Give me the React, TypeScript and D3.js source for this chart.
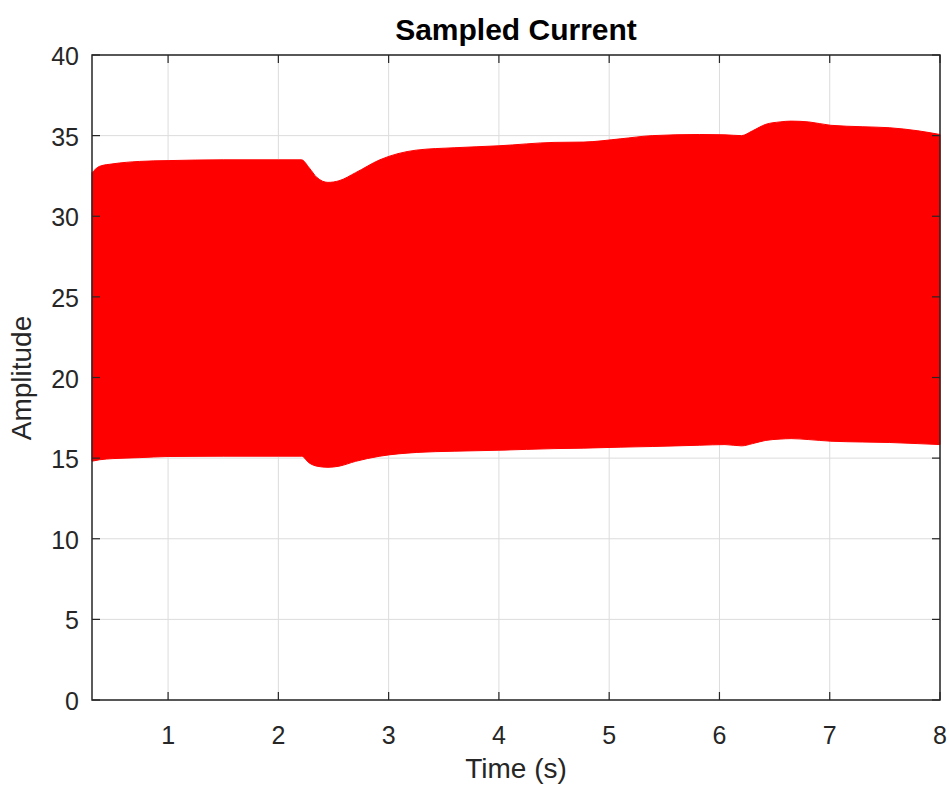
import React from "react";
import * as d3 from "d3";

const timeS = [0.31, 0.38, 0.5, 0.74, 1.0, 1.5, 2.0, 2.21, 2.28, 2.35, 2.45, 2.55, 2.7, 2.92, 3.25, 3.6, 4.0, 4.5, 4.77, 5.1, 5.39, 5.82, 6.05, 6.2, 6.3, 6.42, 6.55, 6.65, 6.81, 7.01, 7.3, 7.54, 7.8, 8.0];
const upperAmp = [32.7, 33.1, 33.25, 33.4, 33.45, 33.5, 33.5, 33.5, 33.0, 32.4, 32.1, 32.2, 32.7, 33.5, 34.1, 34.25, 34.37, 34.58, 34.6, 34.8, 35.0, 35.07, 35.05, 35.0, 35.3, 35.7, 35.85, 35.9, 35.85, 35.64, 35.55, 35.49, 35.3, 35.07];
const lowerAmp = [14.81, 14.9, 14.97, 15.03, 15.1, 15.12, 15.12, 15.12, 14.7, 14.5, 14.43, 14.5, 14.8, 15.12, 15.35, 15.43, 15.49, 15.59, 15.62, 15.68, 15.72, 15.8, 15.84, 15.76, 15.9, 16.1, 16.18, 16.21, 16.15, 16.05, 16.0, 15.97, 15.9, 15.84];

const xTicks = [1, 2, 3, 4, 5, 6, 7, 8];
const yTicks = [0, 5, 10, 15, 20, 25, 30, 35, 40];

export default function App() {
  const W = 949, H = 786;
  const left = 92, right = 940, top = 55, bottom = 700;
  const x = d3.scaleLinear().domain([0.31, 8]).range([left, right]);
  const y = d3.scaleLinear().domain([0, 40]).range([bottom, top]);
  const idx = d3.range(timeS.length);
  const area = d3
    .area<number>()
    .x((i) => x(timeS[i]))
    .y0((i) => y(lowerAmp[i]))
    .y1((i) => y(upperAmp[i]))
    .curve(d3.curveMonotoneX);
  const axisColor = "#262626";
  const font = "'Liberation Sans', Arial, Helvetica, sans-serif";
  const tl = 8;
  return (
    <svg width={W} height={H} style={{ position: "absolute", left: 0, top: 0, background: "#fff" }}>
      <rect x={left} y={top} width={right - left} height={bottom - top} fill="#fff" />
      {xTicks.map((t) => (
        <line key={"gx" + t} x1={x(t)} x2={x(t)} y1={top} y2={bottom} stroke="#dcdcdc" strokeWidth={1} />
      ))}
      {yTicks.map((t) => (
        <line key={"gy" + t} x1={left} x2={right} y1={y(t)} y2={y(t)} stroke="#dcdcdc" strokeWidth={1} />
      ))}
      <path d={area(idx) || ""} fill="#ff0000" stroke="#ff0000" strokeWidth={1} />
      <rect x={left} y={top} width={right - left} height={bottom - top} fill="none" stroke={axisColor} strokeWidth={1.5} />
      {xTicks.map((t) => (
        <g key={"tx" + t}>
          <line x1={x(t)} x2={x(t)} y1={bottom} y2={bottom - tl} stroke={axisColor} strokeWidth={1.2} />
          <line x1={x(t)} x2={x(t)} y1={top} y2={top + tl} stroke={axisColor} strokeWidth={1.2} />
          <text x={x(t)} y={bottom + 44} textAnchor="middle" fontFamily={font} fontSize={25} fill={axisColor}>
            {t}
          </text>
        </g>
      ))}
      {yTicks.map((t) => (
        <g key={"ty" + t}>
          <line x1={left} x2={left + tl} y1={y(t)} y2={y(t)} stroke={axisColor} strokeWidth={1.2} />
          <line x1={right} x2={right - tl} y1={y(t)} y2={y(t)} stroke={axisColor} strokeWidth={1.2} />
          <text x={79} y={y(t) + 10} textAnchor="end" fontFamily={font} fontSize={25} fill={axisColor}>
            {t}
          </text>
        </g>
      ))}
      <text x={516} y={40} textAnchor="middle" fontFamily={font} fontSize={30} fontWeight="bold" fill="#000">
        Sampled Current
      </text>
      <text x={516} y={778} textAnchor="middle" fontFamily={font} fontSize={28} fill={axisColor}>
        Time (s)
      </text>
      <text
        transform={`translate(31, 378) rotate(-90)`}
        textAnchor="middle"
        fontFamily={font}
        fontSize={28}
        fill={axisColor}
      >
        Amplitude
      </text>
    </svg>
  );
}
